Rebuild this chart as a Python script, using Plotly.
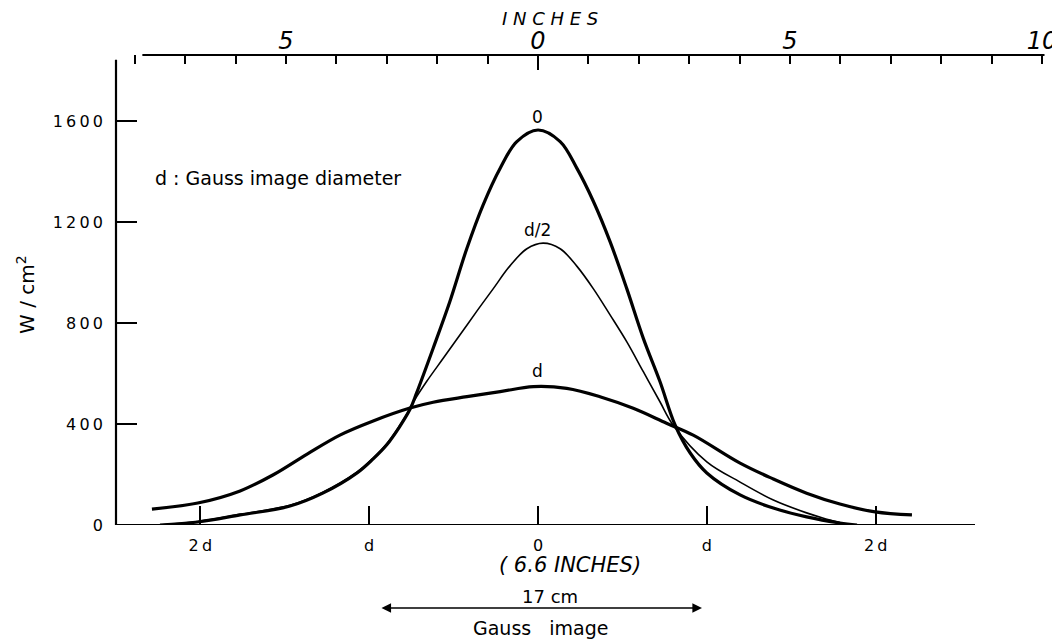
import plotly.graph_objects as go

# ---- data (x in inches from centre, y in W/cm^2) ----
curve_0_x = [-7.5, -6.75, -5.91, -4.92, -4.27, -3.59, -3.27, -3.0, -2.75, -2.54, -2.41, -2.08, -1.75, -1.41, -1.09, -0.75,
             -0.42, 0.0, 0.44, 0.77, 1.10, 1.43, 1.76, 2.09, 2.42, 2.72, 3.02, 3.35, 4.01, 4.67, 5.33, 5.99, 6.33]
curve_0_y = [0, 12, 40, 75, 126, 206, 262, 318, 388, 458, 522, 700, 884, 1096, 1267, 1413,
             1518, 1564, 1518, 1413, 1281, 1122, 937, 739, 568, 396, 285, 206, 119, 67, 32, 8, 0]

curve_half_x = [-7.5, -6.75, -5.91, -4.92, -4.27, -3.59, -3.27, -3.0, -2.75, -2.6, -2.47, -2.21, -1.88, -1.55, -1.22,
                -0.89, -0.56, -0.22, 0.1, 0.44, 0.77, 1.10, 1.43, 1.76, 2.09, 2.42, 2.68, 3.35, 4.01, 4.67, 5.33,
                5.65, 5.99]
curve_half_y = [0, 14, 42, 78, 130, 210, 265, 322, 392, 440, 488, 568, 660, 752, 845,
                935, 1025, 1094, 1116, 1094, 1025, 935, 832, 726, 607, 488, 396, 250, 170, 99, 48,
                28, 10]

curve_d_x = [-7.66, -6.75, -5.91, -5.26, -4.58, -3.93, -3.27, -2.54, -2.08, -1.41, -0.75, -0.09, 0.57, 1.23, 1.89,
             2.55, 3.08, 4.01, 4.67, 5.33, 5.99, 6.69, 7.42]
curve_d_y = [63, 87, 135, 198, 281, 356, 412, 463, 486, 508, 528, 548, 541, 508, 462,
             403, 356, 245, 182, 126, 83, 52, 40]

curve_labels = ["0", "d/2", "d"]
curve_label_y = [1616, 1168, 610]

D = 3.35  # Gauss image diameter d, in inches on the plot scale
bottom_tickvals = [-2 * D, -D, 0, D, 2 * D]
bottom_ticktext = ["2\u2009d", "d", "0", "d", "2\u2009d"]

top_tickvals = list(range(-8, 11))
top_ticktext = ["5" if v == -5 else "0" if v == 0 else "5" if v == 5 else "10" if v == 10 else "" for v in top_tickvals]

yticks = [0, 400, 800, 1200, 1600]
ytick_text = ["\u2009".join(str(v)) for v in yticks]

XR = [-8.373, 10.06]
YR = [0, 1861]

FONT = "DejaVu Sans"
PAGE_OFF = 8  # the page body has an 8px margin


def py(pix):
    """vertical page pixel -> paper y (plot bottom sits at page y=525, plot height 470)"""
    return (525 - pix) / 470


def px(pix):
    """horizontal page pixel -> x in inches (centre at page x=538, 50.4 px per inch)"""
    return (pix - 538) / 50.4


fig = go.Figure()
fig.add_trace(go.Scatter(x=curve_0_x, y=curve_0_y, mode="lines",
                         line=dict(color="black", width=3.2, shape="spline", smoothing=1.0),
                         name="0", showlegend=False, hoverinfo="skip"))
fig.add_trace(go.Scatter(x=curve_half_x, y=curve_half_y, mode="lines",
                         line=dict(color="black", width=1.6, shape="spline", smoothing=1.0),
                         name="d/2", showlegend=False, hoverinfo="skip"))
fig.add_trace(go.Scatter(x=curve_d_x, y=curve_d_y, mode="lines",
                         line=dict(color="black", width=3.2, shape="spline", smoothing=1.0),
                         name="d", showlegend=False, hoverinfo="skip"))
# invisible trace so that the top (inches) axis is drawn
fig.add_trace(go.Scatter(x=XR, y=[None, None], xaxis="x2", mode="lines",
                         showlegend=False, hoverinfo="skip"))

fig.update_layout(
    width=1060 - PAGE_OFF, height=642 - PAGE_OFF,
    margin=dict(l=116 - PAGE_OFF, r=15, t=55 - PAGE_OFF, b=117),
    paper_bgcolor="white", plot_bgcolor="white",
    font=dict(family=FONT, color="black"),
    xaxis=dict(range=XR, showgrid=False, zeroline=False, showline=False, automargin=False,
               tickvals=bottom_tickvals, ticktext=bottom_ticktext,
               ticks="inside", ticklen=19, tickwidth=1.5, tickcolor="black",
               tickfont=dict(size=16, family=FONT), ticklabelstandoff=9),
    xaxis2=dict(range=XR, overlaying="x", side="top", showgrid=False, zeroline=False, automargin=False,
                showline=False, tickvals=top_tickvals, ticktext=top_ticktext,
                ticks="inside", ticklen=9, tickwidth=1.5, tickcolor="black",
                tickfont=dict(size=24, family=FONT, style="italic"), ticklabelstandoff=0),
    yaxis=dict(range=YR, showgrid=False, zeroline=False, showline=False, automargin=False,
               tickvals=yticks, ticktext=ytick_text,
               ticks="inside", ticklen=21, tickwidth=2, tickcolor="black",
               tickfont=dict(size=16, family=FONT), ticklabelstandoff=12),
)

# axis lines
fig.add_shape(type="line", xref="paper", yref="y", x0=0, x1=0, y0=0, y1=1842,
              line=dict(color="black", width=2.2))
fig.add_shape(type="line", xref="paper", yref="y", x0=0, x1=(975 - 116) / 929, y0=0, y1=0,
              line=dict(color="black", width=2.2))
fig.add_shape(type="line", xref="x", yref="paper", x0=-7.85, x1=10.05, y0=1, y1=1,
              line=dict(color="black", width=2))
# longer centre tick on the inches scale
fig.add_shape(type="line", xref="x", yref="paper", x0=0, x1=0, y0=1, y1=1 - 15 / 470,
              line=dict(color="black", width=2))

# curve labels
for lab, ly in zip(curve_labels, curve_label_y):
    fig.add_annotation(x=0, y=ly, xref="x", yref="y", text=lab, showarrow=False,
                       font=dict(size=17, family=FONT))

fig.add_annotation(x=px(153), y=(525 - 178) / 0.2525, xref="x", yref="y", xanchor="left",
                   text="d : Gauss image diameter", showarrow=False, font=dict(size=19, family=FONT))

fig.add_annotation(x=(26 - 116) / 929, y=py(295), xref="paper", yref="paper", xanchor="center",
                   yanchor="middle", text="W / cm<sup>2</sup>",
                   textangle=-90, showarrow=False, font=dict(size=20, family=FONT))

fig.add_annotation(x=px(550), y=py(19), xref="x", yref="paper", yanchor="middle",
                   text="I N C H E S", showarrow=False,
                   font=dict(size=18, family=FONT, style="italic"))

fig.add_annotation(x=px(570), y=py(565), xref="x", yref="paper", yanchor="middle",
                   text="( 6.6 INCHES)", showarrow=False, font=dict(size=21, family=FONT, style="italic"))
fig.add_annotation(x=px(550), y=py(596), xref="x", yref="paper", yanchor="middle",
                   text="17 cm", showarrow=False, font=dict(size=18, family=FONT))
fig.add_annotation(x=px(702), y=py(608), xref="x", yref="paper",
                   ax=px(380), ay=0, axref="x", ayref="pixel",
                   text="", showarrow=True, arrowhead=2, arrowside="end+start",
                   arrowsize=1.2, arrowwidth=1.6, arrowcolor="black")
fig.add_annotation(x=px(541), y=py(628), xref="x", yref="paper", yanchor="middle",
                   text="Gauss   image", showarrow=False, font=dict(size=19, family=FONT))

fig.write_html("out.html")
